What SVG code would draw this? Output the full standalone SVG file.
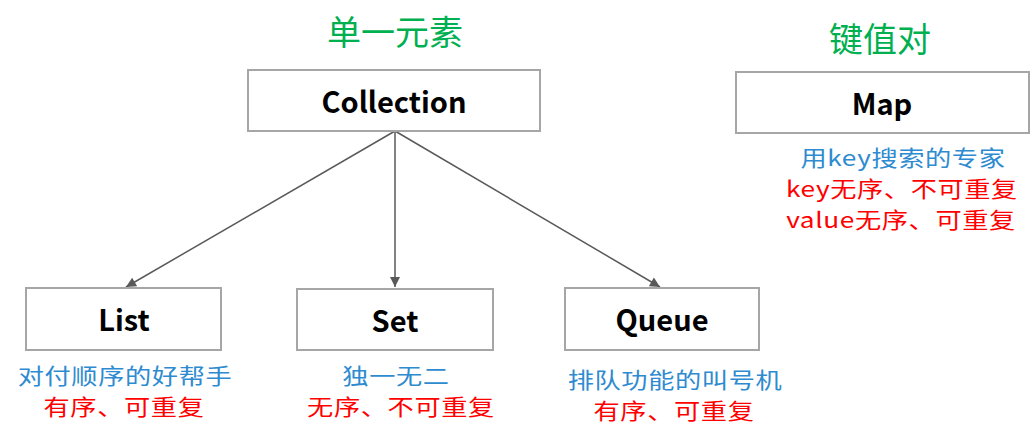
<svg xmlns="http://www.w3.org/2000/svg" width="1035" height="439" viewBox="0 0 1035 439">
<style>
.box{fill:#fff;stroke:#a6a6a6;stroke-width:2}
.lbl{font-family:"Noto Sans CJK SC","Noto Sans",sans-serif;font-weight:bold;font-size:29px;fill:#000;text-anchor:middle}
.ttl{font-family:"Noto Sans CJK SC",sans-serif;font-size:34px;fill:#00b050;text-anchor:middle}
.sub{font-family:"Noto Sans CJK SC",sans-serif;font-size:21.5px;letter-spacing:0.5px;text-anchor:middle}
.blue{fill:#2e8bd0}
.red{fill:#ff0000}
.conn{stroke:#595959;stroke-width:1.5;fill:none;marker-end:url(#ah)}
</style>
<defs>
<marker id="ah" viewBox="0 0 10 10" refX="10" refY="5" markerWidth="12" markerHeight="10" orient="auto" markerUnits="userSpaceOnUse">
<path d="M0,0 L10,5 L0,10 z" fill="#595959"/>
</marker>
</defs>
<rect width="1035" height="439" fill="#fff"/>
<text class="ttl" x="395" y="45">单一元素</text>
<text class="ttl" x="880" y="52">键值对</text>
<g id="connectors">
<line class="conn" x1="395" y1="131" x2="126" y2="287"/>
<line class="conn" x1="395" y1="131" x2="395" y2="287"/>
<line class="conn" x1="395" y1="131" x2="660" y2="287"/>
</g>
<g id="collection">
<rect class="box" x="248" y="70" width="292" height="61"/>
<text class="lbl" x="394" y="113">Collection</text>
</g>
<g id="map">
<rect class="box" x="736" y="72" width="293" height="61"/>
<text class="lbl" x="882" y="115">Map</text>
<text class="sub blue" transform="translate(903,166) scale(1.22,1)">用key搜索的专家</text>
<text class="sub red" transform="translate(902,197) scale(1.22,1)">key无序、不可重复</text>
<text class="sub red" transform="translate(901,228) scale(1.22,1)">value无序、可重复</text>
</g>
<g id="list">
<rect class="box" x="26" y="288" width="195" height="62"/>
<text class="lbl" x="124" y="331">List</text>
<text class="sub blue" transform="translate(125,384) scale(1.22,1)">对付顺序的好帮手</text>
<text class="sub red" transform="translate(124,415) scale(1.22,1)">有序、可重复</text>
</g>
<g id="set">
<rect class="box" x="297" y="289" width="196" height="61"/>
<text class="lbl" x="395" y="332">Set</text>
<text class="sub blue" transform="translate(396,384) scale(1.22,1)">独一无二</text>
<text class="sub red" transform="translate(401,415) scale(1.22,1)">无序、不可重复</text>
</g>
<g id="queue">
<rect class="box" x="565" y="288" width="194" height="62"/>
<text class="lbl" x="662" y="331">Queue</text>
<text class="sub blue" transform="translate(675,388) scale(1.22,1)">排队功能的叫号机</text>
<text class="sub red" transform="translate(674,419) scale(1.22,1)">有序、可重复</text>
</g>
</svg>
